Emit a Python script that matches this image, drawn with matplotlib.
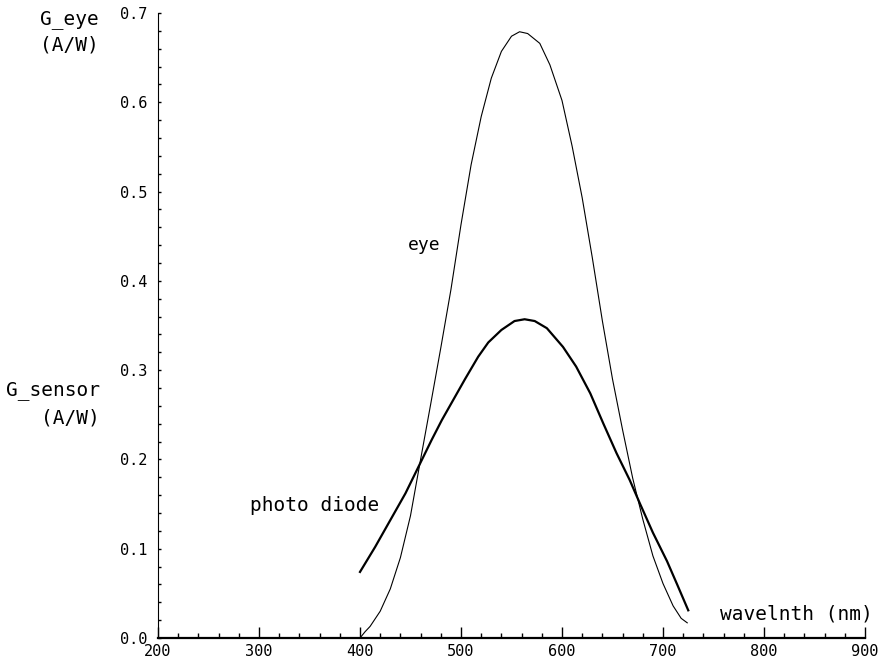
import matplotlib
matplotlib.use("Agg")
import matplotlib.pyplot as plt
from matplotlib.ticker import MultipleLocator, FormatStrFormatter

# data (wavelength in nm, responsivity in A/W)
eye_wl = [400, 405, 410, 420, 430, 440, 450, 460, 470, 480, 490, 500, 510,
          520, 530, 540, 550, 558, 566, 578, 588, 600, 610, 620, 630, 640,
          650, 660, 670, 680, 690, 700, 710, 718, 724]
eye_g = [0.0, 0.007, 0.013, 0.030, 0.055, 0.090, 0.137, 0.200, 0.262, 0.325,
         0.390, 0.463, 0.530, 0.584, 0.627, 0.657, 0.674, 0.679, 0.677, 0.666,
         0.642, 0.602, 0.551, 0.493, 0.426, 0.355, 0.290, 0.233, 0.179, 0.133,
         0.092, 0.061, 0.036, 0.022, 0.017]

diode_wl = [400, 415, 428, 445, 458, 471, 481, 494, 504, 517, 527, 540, 553,
            563, 573, 585, 601, 614, 628, 641, 654, 667, 677, 690, 704, 714, 725]
diode_g = [0.074, 0.102, 0.128, 0.162, 0.192, 0.222, 0.244, 0.270, 0.290, 0.315,
           0.331, 0.345, 0.355, 0.357, 0.355, 0.347, 0.326, 0.304, 0.274, 0.240,
           0.207, 0.177, 0.151, 0.118, 0.086, 0.060, 0.031]

FONT = "DejaVu Sans Mono"

fig = plt.figure(figsize=(8.8, 6.65), dpi=100)
ax = fig.add_axes([158 / 880, 27 / 665, 707 / 880, 625 / 665])

ax.plot(eye_wl, eye_g, color="black", lw=0.8)
ax.plot(diode_wl, diode_g, color="black", lw=1.6)

ax.set_xlim(200, 900)
ax.set_ylim(0, 0.7)

# axes look
ax.spines["top"].set_visible(False)
ax.spines["right"].set_visible(False)
ax.spines["bottom"].set_linewidth(1.6)
ax.spines["left"].set_linewidth(0.8)

ax.xaxis.set_major_locator(MultipleLocator(100))
ax.xaxis.set_minor_locator(MultipleLocator(20))
ax.yaxis.set_major_locator(MultipleLocator(0.1))
ax.yaxis.set_minor_locator(MultipleLocator(0.02))
ax.yaxis.set_major_formatter(FormatStrFormatter("%.1f"))

ax.tick_params(axis="x", which="major", direction="in", length=8, width=1,
               pad=4, labelsize=11)
ax.tick_params(axis="x", which="minor", direction="in", length=3.5, width=1)
ax.tick_params(axis="y", which="major", direction="in", length=2.5, width=1,
               pad=8, labelsize=11)
ax.tick_params(axis="y", which="minor", direction="in", length=2, width=1)
for lab in ax.get_xticklabels() + ax.get_yticklabels():
    lab.set_family(FONT)

# labels
ax.text(447, 0.44, "eye", family=FONT, fontsize=13, va="center")
ax.text(291, 0.148, "photo diode", family=FONT, fontsize=14, va="center")
ax.text(756, 0.027, "wavelnth (nm)", family=FONT, fontsize=14, va="center")

fig.text(99 / 880, 1 - 10 / 665, "G_eye\n(A/W)", family=FONT, fontsize=14,
         ha="right", va="top", multialignment="right", linespacing=1.45)
fig.text(100 / 880, 1 - 381 / 665, "G_sensor\n(A/W)", family=FONT, fontsize=14,
         ha="right", va="top", multialignment="right", linespacing=1.55)

fig.savefig("out.png", dpi=100)
